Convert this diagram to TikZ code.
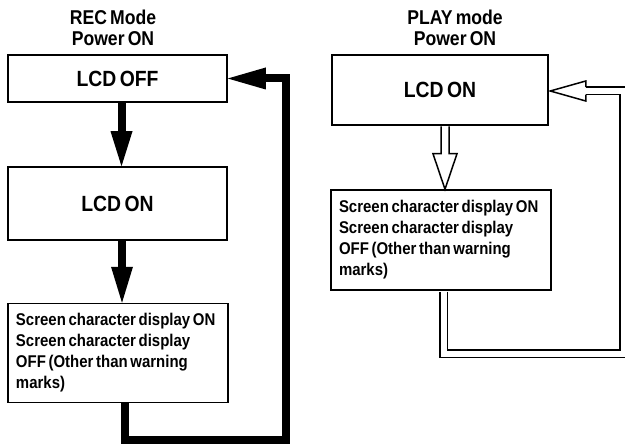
\documentclass[tikz,border=0pt]{standalone}
\usepackage{fontspec}
\setmainfont{Liberation Sans}[FakeStretch=0.88, WordSpace=0.65]
\usetikzlibrary{arrows.meta,calc}
\tikzset{
  box/.style={draw, line width=1.5pt, inner sep=0pt, font=\bfseries\fontsize{22}{24}\selectfont},
  txtbox/.style={draw, line width=1.5pt, inner xsep=8pt, inner ysep=0pt, align=flush left, font=\bfseries\fontsize{17}{21}\selectfont},
  title/.style={align=center, inner sep=0pt, font=\bfseries\fontsize{20}{21}\selectfont},
  thick arrow/.style={line width=8pt, line join=miter, -{Triangle[length=#1, width=22pt, line width=0pt]}},
  hollow/.style={line width=1.5pt, line join=miter, fill=white},
  hollowline/.style={line width=1.5pt, double, double distance=6pt, line join=miter}
}
\begin{document}
\begin{tikzpicture}[x=1pt, y=-1pt]
\useasboundingbox (0,0) rectangle (625,444);
% left column
\node[title] (recT) at (113,27.5) {REC Mode\\Power ON};
\node[box, minimum width=219pt, minimum height=47pt] (lcdoff) at (117.5,78.5) {LCD OFF};
\node[box, minimum width=219pt, minimum height=73pt] (lcdonL) at (117.5,203.5) {LCD ON};
\node[txtbox, minimum width=218pt, minimum height=99pt, text width=204pt] (scrL) at (118,353)
  {Screen character display ON\\Screen character display\\OFF (Other than warning\\marks)};
\draw[thick arrow=35pt] ([xshift=4pt]lcdoff.south) -- ([xshift=4pt]lcdonL.north);
\draw[thick arrow=36pt] ([xshift=4.5pt]lcdonL.south) -- ([xshift=4pt]scrL.north);
\coordinate (cornL) at (286,440);
\draw[thick arrow=38pt] ([xshift=7pt]scrL.south) |- (cornL) |- (lcdoff.east);
% right column
\node[title] (playT) at (455,27.5) {PLAY mode\\Power ON};
\node[box, minimum width=216pt, minimum height=70pt] (lcdonR) at (440,90) {LCD ON};
\node[txtbox, minimum width=217pt, minimum height=100pt, text width=204pt] (scrR) at (441,240)
  {Screen character display ON\\Screen character display\\OFF (Other than warning\\marks)};
\draw[hollow] ($(lcdonR.south)+(1,0.75)$) -- ($(lcdonR.south)+(1,28)$) -- ($(lcdonR.south)+(-7,28)$)
  -- ($(scrR.north)+(4,0)$) -- ($(lcdonR.south)+(17,28)$) -- ($(lcdonR.south)+(9,28)$) -- ($(lcdonR.south)+(9,0.75)$);
\coordinate (cornR) at (623.5,353.5);
\draw[hollowline] ($(scrR.south)+(2.5,0.75)$) |- (cornR) |- ($(lcdonR.east)+(37,1)$);
\draw[hollow] ($(lcdonR.east)+(37,-2.75)$) -- ($(lcdonR.east)+(37,-9)$) -- ($(lcdonR.east)+(1.5,1)$)
  -- ($(lcdonR.east)+(37,11)$) -- ($(lcdonR.east)+(37,4.75)$);
\end{tikzpicture}
\end{document}
